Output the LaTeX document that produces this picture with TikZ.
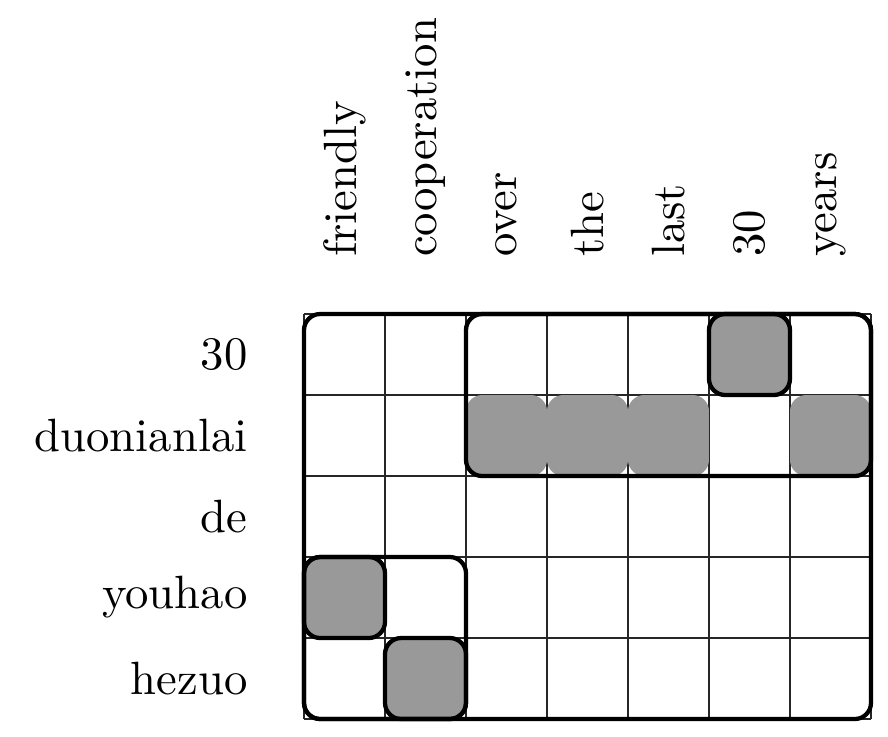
\documentclass[tikz,border=0pt]{standalone}
\usepackage{fontspec}
\newfontfamily\labelfont{lmroman10-regular.otf}
\definecolor{cellgray}{gray}{0.6}
\tikzset{
  gridline/.style={line width=0.6pt, black!85},
  bigbox/.style={line width=1.5pt, rounded corners=0.2cm},
  graycell/.style={fill=cellgray, rounded corners=0.2cm},
  labfont/.style={font=\labelfont\fontsize{16.4}{20}\selectfont},
  rowlab/.style={labfont, anchor=east, inner sep=0pt},
  collab/.style={labfont, anchor=west, rotate=90, inner sep=0pt}
}
\begin{document}
\begin{tikzpicture}
\useasboundingbox (-3.753,3.877) rectangle (7.210,-5.210);
% grid
\draw[gridline] (0,-5) grid (7,0);
% gray cells of row 2 (no border)
\foreach \c in {2,3,4,6} \fill[graycell] (\c,-1) rectangle ++(1,-1);
% bordered gray cells
\draw[bigbox, fill=cellgray] (5,0) rectangle (6,-1);
\draw[bigbox, fill=cellgray] (0,-3) rectangle (1,-4);
\draw[bigbox, fill=cellgray] (1,-4) rectangle (2,-5);
% outline boxes
\draw[bigbox] (2,0) rectangle (7,-2);
\draw[bigbox] (0,-3) rectangle (2,-5);
\draw[bigbox] (0,0) rectangle (7,-5);
% row labels
\node[rowlab] (r1) at (-0.691,-0.5) {30};
\node[rowlab] (r2) at (-0.691,-1.5) {duonianlai};
\node[rowlab] (r3) at (-0.691,-2.5) {de};
\node[rowlab] (r4) at (-0.691,-3.5) {youhao};
\node[rowlab] (r5) at (-0.691,-4.5) {hezuo};
% column labels
\node[collab] (c1) at (0.5,0.70) {friendly};
\node[collab] (c2) at (1.5,0.70) {cooperation};
\node[collab] (c3) at (2.5,0.70) {over};
\node[collab] (c4) at (3.5,0.70) {the};
\node[collab] (c5) at (4.5,0.70) {last};
\node[collab] (c6) at (5.5,0.70) {30};
\node[collab] (c7) at (6.5,0.70) {years};
\end{tikzpicture}
\end{document}
